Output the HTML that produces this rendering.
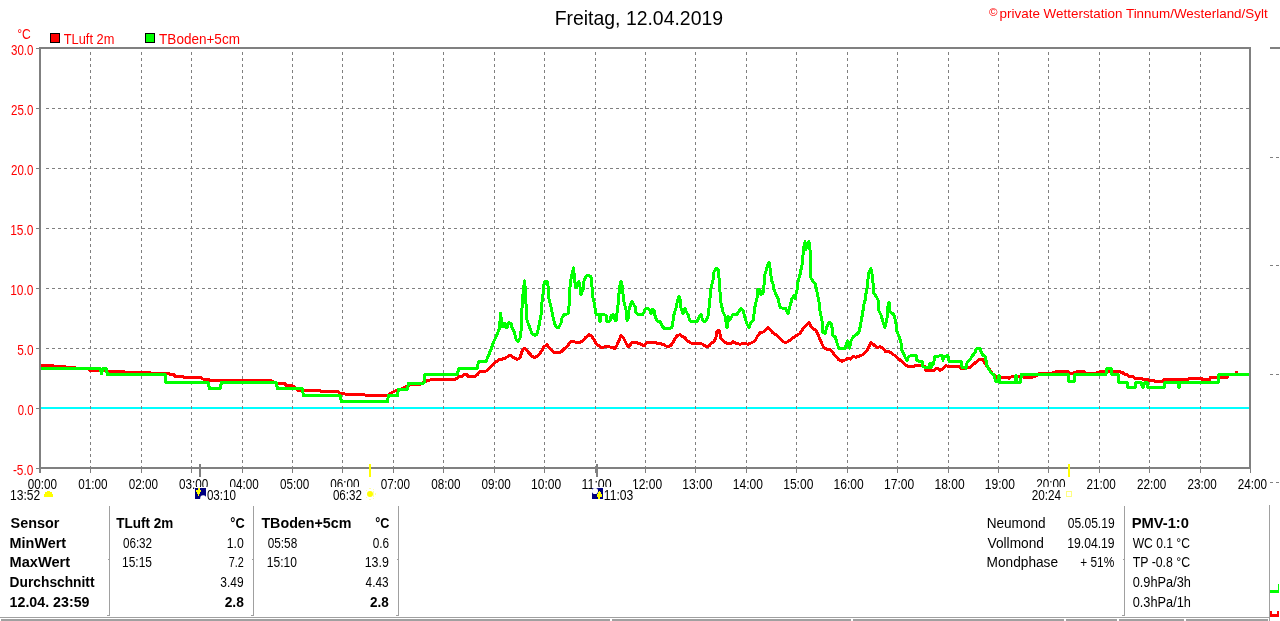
<!DOCTYPE html>
<html><head><meta charset="utf-8"><title>Freitag, 12.04.2019</title><style>html,body{margin:0;padding:0;background:#fff;overflow:hidden}svg{display:block;will-change:transform}</style></head><body>
<svg width="1280" height="621" viewBox="0 0 1280 621">
<style>text{font-family:"Liberation Sans",sans-serif;} .gd{stroke:#808080;stroke-width:1;stroke-dasharray:3 3;shape-rendering:crispEdges;fill:none}</style>
<rect width="1280" height="621" fill="#fff"/>
<rect x="41" y="407" width="1208" height="2" fill="#00ffff"/>
<line x1="46" y1="108.5" x2="1249" y2="108.5" class="gd"/>
<line x1="46" y1="168.5" x2="1249" y2="168.5" class="gd"/>
<line x1="46" y1="228.5" x2="1249" y2="228.5" class="gd"/>
<line x1="46" y1="288.5" x2="1249" y2="288.5" class="gd"/>
<line x1="46" y1="348.5" x2="1249" y2="348.5" class="gd"/>
<line x1="90.5" y1="52" x2="90.5" y2="467" class="gd"/>
<line x1="141.5" y1="52" x2="141.5" y2="467" class="gd"/>
<line x1="191.5" y1="52" x2="191.5" y2="467" class="gd"/>
<line x1="242.5" y1="52" x2="242.5" y2="467" class="gd"/>
<line x1="292.5" y1="52" x2="292.5" y2="467" class="gd"/>
<line x1="342.5" y1="52" x2="342.5" y2="467" class="gd"/>
<line x1="393.5" y1="52" x2="393.5" y2="467" class="gd"/>
<line x1="443.5" y1="52" x2="443.5" y2="467" class="gd"/>
<line x1="494.5" y1="52" x2="494.5" y2="467" class="gd"/>
<line x1="544.5" y1="52" x2="544.5" y2="467" class="gd"/>
<line x1="595.5" y1="52" x2="595.5" y2="467" class="gd"/>
<line x1="645.5" y1="52" x2="645.5" y2="467" class="gd"/>
<line x1="695.5" y1="52" x2="695.5" y2="467" class="gd"/>
<line x1="746.5" y1="52" x2="746.5" y2="467" class="gd"/>
<line x1="796.5" y1="52" x2="796.5" y2="467" class="gd"/>
<line x1="847.5" y1="52" x2="847.5" y2="467" class="gd"/>
<line x1="897.5" y1="52" x2="897.5" y2="467" class="gd"/>
<line x1="948.5" y1="52" x2="948.5" y2="467" class="gd"/>
<line x1="998.5" y1="52" x2="998.5" y2="467" class="gd"/>
<line x1="1048.5" y1="52" x2="1048.5" y2="467" class="gd"/>
<line x1="1099.5" y1="52" x2="1099.5" y2="467" class="gd"/>
<line x1="1149.5" y1="52" x2="1149.5" y2="467" class="gd"/>
<line x1="1200.5" y1="52" x2="1200.5" y2="467" class="gd"/>
<rect x="36" y="48" width="3" height="1" fill="#808080"/>
<rect x="36" y="108" width="3" height="1" fill="#808080"/>
<rect x="36" y="168" width="3" height="1" fill="#808080"/>
<rect x="36" y="228" width="3" height="1" fill="#808080"/>
<rect x="36" y="288" width="3" height="1" fill="#808080"/>
<rect x="36" y="348" width="3" height="1" fill="#808080"/>
<rect x="36" y="408" width="3" height="1" fill="#808080"/>
<rect x="36" y="468" width="3" height="1" fill="#808080"/>
<rect x="40" y="469" width="1" height="4" fill="#808080"/>
<rect x="90" y="469" width="1" height="4" fill="#808080"/>
<rect x="141" y="469" width="1" height="4" fill="#808080"/>
<rect x="191" y="469" width="1" height="4" fill="#808080"/>
<rect x="242" y="469" width="1" height="4" fill="#808080"/>
<rect x="292" y="469" width="1" height="4" fill="#808080"/>
<rect x="342" y="469" width="1" height="4" fill="#808080"/>
<rect x="393" y="469" width="1" height="4" fill="#808080"/>
<rect x="443" y="469" width="1" height="4" fill="#808080"/>
<rect x="494" y="469" width="1" height="4" fill="#808080"/>
<rect x="544" y="469" width="1" height="4" fill="#808080"/>
<rect x="595" y="469" width="1" height="4" fill="#808080"/>
<rect x="645" y="469" width="1" height="4" fill="#808080"/>
<rect x="695" y="469" width="1" height="4" fill="#808080"/>
<rect x="746" y="469" width="1" height="4" fill="#808080"/>
<rect x="796" y="469" width="1" height="4" fill="#808080"/>
<rect x="847" y="469" width="1" height="4" fill="#808080"/>
<rect x="897" y="469" width="1" height="4" fill="#808080"/>
<rect x="948" y="469" width="1" height="4" fill="#808080"/>
<rect x="998" y="469" width="1" height="4" fill="#808080"/>
<rect x="1048" y="469" width="1" height="4" fill="#808080"/>
<rect x="1099" y="469" width="1" height="4" fill="#808080"/>
<rect x="1149" y="469" width="1" height="4" fill="#808080"/>
<rect x="1200" y="469" width="1" height="4" fill="#808080"/>
<rect x="1250" y="469" width="1" height="4" fill="#808080"/>
<polyline points="40.0,365.5 53.0,365.5 54.0,366.5 65.0,366.5 66.0,367.5 75.0,367.5 76.0,368.5 89.0,368.5 90.0,370.5 100.0,370.5 110.0,371.5 124.0,371.5 125.0,372.5 150.0,372.5 151.0,373.5 169.0,373.5 170.0,374.5 174.0,374.5 175.0,376.5 183.0,376.5 184.0,377.5 201.0,377.5 202.0,378.5 204.0,379.5 209.0,379.5 210.0,380.5 270.0,380.5 277.0,383.0 285.0,383.5 286.0,385.5 293.0,386.0 298.0,390.5 320.0,390.5 321.0,392.0 322.0,391.0 338.0,391.5 339.0,393.0 345.0,394.0 347.0,394.5 365.0,395.0 388.0,396.0 390.0,393.5 395.0,391.0 400.0,390.0 405.0,387.0 410.0,385.0 420.0,384.5 425.0,381.5 430.0,380.0 445.0,379.5 448.0,380.0 455.0,379.5 458.0,377.5 459.0,376.5 463.0,376.0 464.0,374.5 467.0,374.5 468.0,376.5 475.0,376.5 478.0,374.0 480.0,371.5 486.0,371.0 487.0,370.5 489.0,369.0 490.0,367.5 492.0,366.0 493.0,364.5 495.0,362.8 497.0,361.0 499.0,359.7 501.0,359.2 504.0,358.8 507.0,357.0 510.0,355.2 512.0,356.5 515.0,358.3 517.0,359.6 520.0,357.8 522.0,351.3 524.0,348.0 526.0,349.7 529.0,352.9 532.0,356.2 535.0,357.8 538.0,355.3 541.0,352.1 544.0,346.5 547.0,344.9 549.0,347.3 552.0,350.5 555.0,352.9 558.0,352.9 561.0,352.1 564.0,348.9 566.0,347.6 568.0,345.1 570.0,342.7 572.0,341.1 575.0,342.0 578.0,342.0 580.0,342.7 583.0,340.3 586.0,337.1 589.0,334.7 591.0,335.5 594.0,339.5 596.0,343.5 599.0,346.0 602.0,347.6 605.0,346.8 609.0,346.8 612.0,347.6 615.0,348.4 617.0,345.1 619.0,340.3 621.0,335.5 623.0,337.1 625.0,341.1 627.0,345.1 629.0,346.8 631.0,343.5 633.0,342.0 636.0,342.7 640.0,343.5 644.0,346.0 647.0,342.7 655.0,342.7 659.0,343.5 663.0,344.3 666.0,346.0 669.0,346.8 671.0,345.1 673.0,342.7 675.0,338.7 677.0,335.5 680.0,334.7 682.0,336.3 685.0,337.9 687.0,340.3 690.0,342.7 693.0,343.5 701.0,343.5 704.0,345.1 707.0,346.8 709.0,346.0 712.0,342.7 714.0,342.0 716.0,337.0 717.0,331.3 719.0,330.5 720.0,333.7 721.0,338.5 724.0,341.8 727.0,343.4 730.0,343.9 733.0,341.8 736.0,343.4 740.0,344.2 744.0,343.4 748.0,344.2 752.0,342.6 755.0,341.0 757.0,337.0 760.0,332.9 763.0,332.1 766.0,329.7 768.0,327.3 770.0,329.7 773.0,332.9 777.0,335.3 780.0,338.5 783.0,341.8 786.0,342.6 790.0,340.2 795.0,336.3 800.0,333.4 803.0,328.6 806.0,325.7 809.0,322.8 811.0,326.7 813.0,328.6 816.0,330.5 818.0,334.4 820.0,339.2 822.0,344.1 824.0,348.0 828.0,349.5 830.0,349.4 833.0,352.9 836.0,356.5 839.0,360.0 842.0,361.2 845.0,360.0 848.0,358.2 850.0,359.1 853.0,356.5 856.0,357.3 858.0,356.5 861.0,355.6 864.0,353.8 867.0,350.3 869.0,346.7 871.0,342.3 874.0,345.0 877.0,347.6 880.0,346.7 883.0,348.5 886.0,352.0 889.0,351.2 892.0,353.8 895.0,355.6 898.0,358.2 902.0,361.8 905.0,364.4 908.0,366.7 914.0,366.9 915.0,365.5 920.0,365.5 925.0,366.4 926.0,370.6 932.0,370.6 934.0,370.2 937.0,368.3 940.0,370.2 943.0,368.8 946.0,365.5 948.0,366.4 959.0,366.4 961.0,368.3 969.0,367.8 971.0,366.4 974.0,364.0 977.0,361.2 979.0,359.4 983.0,359.4 985.0,363.1 989.0,369.0 993.0,374.4 997.0,377.2 1008.0,377.2 1009.0,378.1 1010.0,377.2 1012.0,376.7 1020.0,376.7 1023.0,377.0 1033.0,377.0 1036.0,376.0 1039.0,373.5 1052.0,373.5 1053.0,372.5 1057.0,371.5 1068.0,371.5 1070.0,373.3 1073.0,373.3 1074.0,372.5 1078.0,371.5 1084.0,371.5 1085.0,373.0 1096.0,373.0 1097.0,372.5 1102.0,371.5 1106.0,371.5 1108.0,371.0 1115.0,371.0 1116.0,371.5 1120.0,371.5 1121.0,372.8 1123.0,372.8 1124.0,374.0 1127.0,374.0 1128.0,376.0 1133.0,376.0 1134.0,378.0 1141.0,378.0 1142.0,379.0 1147.0,379.0 1148.0,380.0 1153.0,380.0 1154.0,381.0 1158.0,381.0 1159.0,382.0 1160.0,381.0 1163.0,381.0 1164.0,379.5 1188.0,379.5 1189.0,378.0 1201.0,378.0 1202.0,379.3 1208.0,379.3 1209.0,381.0 1210.0,377.8 1217.0,377.8 1218.0,377.5 1227.0,377.5 1228.0,374.5 1235.0,374.5 1236.5,372.5 1238.0,374.5 1249.0,374.5" fill="none" stroke="#ff0000" stroke-width="3" stroke-linejoin="round" stroke-linecap="butt" shape-rendering="crispEdges"/>
<polyline points="40.0,368.5 100.0,368.5 101.5,373.5 103.0,368.5 106.0,368.5 107.5,374.5 165.0,374.5 166.0,382.5 208.0,382.5 209.5,388.5 220.0,388.5 221.5,382.5 276.0,382.5 277.5,388.5 302.0,388.5 303.5,395.5 340.0,395.5 341.5,401.5 387.5,401.5 388.5,395.5 397.5,395.5 398.5,389.0 407.5,389.0 408.5,383.0 424.0,383.0 425.0,374.5 457.0,374.5 458.0,371.5 459.0,368.5 477.0,368.5 478.0,364.0 479.0,361.5 486.0,361.5 487.5,358.0 489.0,354.3 491.5,348.0 494.0,341.0 496.2,336.6 498.0,332.0 499.5,328.0 500.5,313.5 501.5,321.0 502.5,326.8 503.0,323.3 504.0,326.4 505.0,323.3 506.0,327.3 507.0,327.3 508.0,324.6 509.0,322.8 511.0,323.3 512.0,327.3 514.0,331.3 515.0,334.8 516.0,339.2 518.0,341.5 520.0,338.4 521.0,331.2 522.0,307.8 523.0,294.0 524.5,281.0 525.0,286.0 526.0,303.8 527.0,320.0 529.0,325.5 532.0,333.6 535.0,335.2 537.0,334.4 539.0,325.5 541.0,315.0 542.0,302.0 543.0,294.0 544.0,284.5 545.0,281.0 547.0,281.0 548.0,286.0 549.0,299.0 551.0,307.0 553.0,316.7 555.0,324.7 557.0,328.0 559.0,327.2 561.0,323.0 562.0,317.8 564.0,314.6 568.0,313.8 569.0,306.5 570.0,287.2 571.0,279.0 573.5,268.0 574.0,272.7 575.0,282.4 576.0,288.0 578.0,285.6 579.0,281.6 580.0,287.2 581.0,294.4 583.0,289.6 584.0,280.8 586.0,276.0 588.0,275.0 591.0,276.7 592.0,287.0 593.0,297.7 594.0,301.7 595.0,308.0 596.0,314.2 599.0,314.6 600.0,321.8 601.0,314.6 604.0,314.6 606.0,315.4 607.0,321.8 610.0,321.0 611.0,316.0 613.0,314.6 614.0,318.6 616.0,321.0 617.0,313.0 618.0,305.0 619.0,293.6 620.0,285.6 621.0,281.6 622.0,284.8 623.0,293.6 624.0,301.7 626.0,309.7 627.0,320.2 628.0,318.6 629.0,309.7 631.0,303.3 632.0,301.7 634.0,305.0 635.0,306.5 636.0,313.0 638.0,314.2 643.0,314.2 645.0,309.7 647.0,308.0 650.0,310.5 651.0,313.8 652.0,309.0 654.0,310.5 655.0,315.4 657.0,321.0 660.0,321.8 662.0,325.8 664.0,328.2 670.0,328.2 672.0,327.4 673.0,321.0 674.0,314.6 676.0,308.0 677.0,303.3 679.0,296.0 680.0,299.3 681.0,308.0 683.0,313.8 684.0,309.7 685.0,308.0 686.0,311.4 688.0,314.6 690.0,321.0 693.0,321.8 697.0,321.8 699.0,317.0 701.0,314.6 702.0,317.8 703.0,321.0 706.0,321.0 708.0,316.2 709.0,308.0 710.0,298.5 711.0,288.0 713.0,280.0 714.0,272.0 716.0,268.5 718.0,269.3 719.0,277.4 720.0,291.9 721.0,303.0 723.0,312.0 725.0,316.0 727.0,328.0 728.0,316.0 729.0,320.8 731.0,317.6 733.0,314.4 737.0,314.4 739.0,311.2 741.0,308.8 743.0,310.4 745.0,317.6 747.0,324.0 749.0,327.3 751.0,322.5 753.0,320.8 754.0,314.4 755.0,306.4 757.0,298.3 758.0,289.4 760.0,290.2 761.0,294.3 763.0,293.5 764.0,285.4 765.0,274.2 768.0,264.5 769.0,262.5 770.5,271.0 771.5,280.0 773.0,284.0 774.0,289.4 776.0,294.3 778.0,298.3 780.0,307.1 782.0,308.0 786.0,308.8 788.0,313.6 789.0,309.6 790.0,306.4 792.0,298.7 794.0,295.8 795.0,298.7 797.0,290.0 798.0,282.2 800.0,274.5 802.0,264.9 803.0,255.2 804.0,246.5 805.0,241.7 806.0,249.4 807.0,243.6 809.0,241.7 810.0,249.4 811.0,278.4 813.0,281.3 815.0,283.2 817.0,292.0 819.0,301.6 820.0,311.2 822.0,320.9 823.0,332.5 825.0,333.4 827.0,326.7 829.0,322.8 831.0,323.0 832.0,327.3 833.0,336.0 835.0,336.0 837.0,343.2 839.0,348.5 845.0,348.5 846.5,343.0 847.5,341.0 849.5,348.0 851.0,341.0 853.0,337.0 855.0,335.4 857.0,334.1 858.5,332.6 859.3,330.9 860.3,326.4 861.0,321.9 862.3,315.0 864.0,304.2 865.0,300.7 866.0,293.6 867.0,288.3 868.0,279.5 869.0,272.4 871.0,268.8 872.0,274.2 873.0,283.0 874.0,293.6 876.0,296.3 878.0,299.8 879.0,311.3 881.0,314.9 883.0,322.0 885.0,327.3 887.0,318.4 888.0,306.0 889.0,302.5 890.0,311.3 892.0,313.1 894.0,314.9 896.0,323.7 897.0,331.7 899.0,336.1 901.0,343.2 902.0,350.3 904.0,354.7 905.0,357.0 907.0,360.3 909.0,356.1 916.0,355.6 917.0,360.8 922.0,361.5 923.0,366.9 929.0,367.8 930.0,363.1 931.0,367.5 932.0,363.0 933.0,365.0 935.0,356.6 942.0,355.6 943.0,360.3 944.0,356.6 948.0,355.6 949.0,361.2 961.0,361.5 962.0,367.3 966.0,368.3 967.0,362.7 970.0,359.8 972.0,356.1 975.0,352.8 976.0,349.1 978.0,348.6 980.0,348.6 981.0,351.9 983.0,355.2 985.0,356.6 986.0,360.3 987.0,365.9 989.0,369.2 991.0,373.0 994.0,374.8 995.0,379.1 996.0,381.9 998.0,381.9 999.0,375.0 1000.0,382.3 1015.0,382.3 1016.0,375.0 1017.0,382.3 1020.5,382.3 1021.5,374.5 1068.0,374.5 1069.0,381.5 1074.0,381.5 1075.0,374.5 1106.0,374.5 1107.0,368.5 1111.0,368.5 1112.0,374.5 1118.0,374.5 1119.0,382.5 1127.0,382.5 1128.0,387.5 1135.0,387.5 1136.0,382.5 1141.0,382.5 1143.0,388.0 1145.0,382.5 1147.0,382.5 1148.0,387.5 1164.0,387.5 1165.0,382.5 1178.0,382.5 1179.0,388.0 1180.0,382.5 1218.0,382.5 1219.0,374.5 1249.0,374.5" fill="none" stroke="#00ff00" stroke-width="3" stroke-linejoin="round" stroke-linecap="butt" shape-rendering="crispEdges"/>
<rect x="39" y="47" width="1212" height="2" fill="#808080"/>
<rect x="39" y="467" width="1212" height="2" fill="#808080"/>
<rect x="39" y="47" width="2" height="426" fill="#808080"/>
<rect x="1249" y="47" width="2" height="422" fill="#808080"/>
<rect x="50.5" y="33.5" width="9" height="9" fill="#ff0000" stroke="#000" stroke-width="1"/>
<rect x="145.5" y="33.5" width="9" height="9" fill="#00ff00" stroke="#000" stroke-width="1"/>
<rect x="1270" y="47" width="10" height="2" fill="#808080"/>
<line x1="1270" y1="157.5" x2="1280" y2="157.5" class="gd"/>
<line x1="1270" y1="265.5" x2="1280" y2="265.5" class="gd"/>
<line x1="1270" y1="374.5" x2="1280" y2="374.5" class="gd"/>
<line x1="1270" y1="482.5" x2="1280" y2="482.5" class="gd"/>
<text x="554.68" y="25.00" font-size="21" textLength="168.37" lengthAdjust="spacingAndGlyphs">Freitag, 12.04.2019</text>
<text x="988.90" y="15.70" font-size="11" fill="#f00" textLength="8.51" lengthAdjust="spacingAndGlyphs">©</text>
<text x="999.61" y="18.00" font-size="13.5" fill="#f00" textLength="268.06" lengthAdjust="spacingAndGlyphs">private Wetterstation Tinnum/Westerland/Sylt</text>
<text x="17.14" y="39.00" font-size="14" fill="#f00" textLength="13.58" lengthAdjust="spacingAndGlyphs">°C</text>
<text x="63.80" y="44.00" font-size="14" fill="#f00" textLength="50.54" lengthAdjust="spacingAndGlyphs">TLuft 2m</text>
<text x="159.10" y="44.00" font-size="14" fill="#f00" textLength="80.84" lengthAdjust="spacingAndGlyphs">TBoden+5cm</text>
<text x="11.00" y="55.00" font-size="14" fill="#f00" textLength="22.40" lengthAdjust="spacingAndGlyphs">30.0</text>
<text x="11.00" y="115.00" font-size="14" fill="#f00" textLength="22.40" lengthAdjust="spacingAndGlyphs">25.0</text>
<text x="11.00" y="175.00" font-size="14" fill="#f00" textLength="22.40" lengthAdjust="spacingAndGlyphs">20.0</text>
<text x="10.15" y="235.00" font-size="14" fill="#f00" textLength="23.27" lengthAdjust="spacingAndGlyphs">15.0</text>
<text x="10.15" y="295.00" font-size="14" fill="#f00" textLength="23.27" lengthAdjust="spacingAndGlyphs">10.0</text>
<text x="17.16" y="355.00" font-size="14" fill="#f00" textLength="16.43" lengthAdjust="spacingAndGlyphs">5.0</text>
<text x="17.80" y="415.00" font-size="14" fill="#f00" textLength="15.77" lengthAdjust="spacingAndGlyphs">0.0</text>
<text x="12.90" y="475.00" font-size="14" fill="#f00" textLength="20.40" lengthAdjust="spacingAndGlyphs">-5.0</text>
<text x="27.80" y="489.00" font-size="14" textLength="29.33" lengthAdjust="spacingAndGlyphs">00:00</text>
<text x="78.22" y="489.00" font-size="14" textLength="29.33" lengthAdjust="spacingAndGlyphs">01:00</text>
<text x="128.63" y="489.00" font-size="14" textLength="29.33" lengthAdjust="spacingAndGlyphs">02:00</text>
<text x="179.05" y="489.00" font-size="14" textLength="29.33" lengthAdjust="spacingAndGlyphs">03:00</text>
<text x="229.47" y="489.00" font-size="14" textLength="29.33" lengthAdjust="spacingAndGlyphs">04:00</text>
<text x="279.88" y="489.00" font-size="14" textLength="29.33" lengthAdjust="spacingAndGlyphs">05:00</text>
<text x="330.30" y="489.00" font-size="14" textLength="29.33" lengthAdjust="spacingAndGlyphs">06:00</text>
<text x="380.72" y="489.00" font-size="14" textLength="29.33" lengthAdjust="spacingAndGlyphs">07:00</text>
<text x="431.13" y="489.00" font-size="14" textLength="29.33" lengthAdjust="spacingAndGlyphs">08:00</text>
<text x="481.55" y="489.00" font-size="14" textLength="29.33" lengthAdjust="spacingAndGlyphs">09:00</text>
<text x="531.10" y="489.00" font-size="14" textLength="30.19" lengthAdjust="spacingAndGlyphs">10:00</text>
<text x="581.50" y="489.00" font-size="14" textLength="30.18" lengthAdjust="spacingAndGlyphs">11:00</text>
<text x="631.94" y="489.00" font-size="14" textLength="30.19" lengthAdjust="spacingAndGlyphs">12:00</text>
<text x="682.35" y="489.00" font-size="14" textLength="30.19" lengthAdjust="spacingAndGlyphs">13:00</text>
<text x="732.77" y="489.00" font-size="14" textLength="30.19" lengthAdjust="spacingAndGlyphs">14:00</text>
<text x="783.19" y="489.00" font-size="14" textLength="30.19" lengthAdjust="spacingAndGlyphs">15:00</text>
<text x="833.60" y="489.00" font-size="14" textLength="30.19" lengthAdjust="spacingAndGlyphs">16:00</text>
<text x="884.02" y="489.00" font-size="14" textLength="30.19" lengthAdjust="spacingAndGlyphs">17:00</text>
<text x="934.44" y="489.00" font-size="14" textLength="30.19" lengthAdjust="spacingAndGlyphs">18:00</text>
<text x="984.85" y="489.00" font-size="14" textLength="30.19" lengthAdjust="spacingAndGlyphs">19:00</text>
<text x="1036.13" y="489.00" font-size="14" textLength="29.33" lengthAdjust="spacingAndGlyphs">20:00</text>
<text x="1086.55" y="489.00" font-size="14" textLength="29.33" lengthAdjust="spacingAndGlyphs">21:00</text>
<text x="1136.97" y="489.00" font-size="14" textLength="29.33" lengthAdjust="spacingAndGlyphs">22:00</text>
<text x="1187.38" y="489.00" font-size="14" textLength="29.33" lengthAdjust="spacingAndGlyphs">23:00</text>
<text x="1237.80" y="489.00" font-size="14" textLength="29.33" lengthAdjust="spacingAndGlyphs">24:00</text>
<text x="10.60" y="528.00" font-size="14" font-weight="bold" textLength="48.77" lengthAdjust="spacingAndGlyphs">Sensor</text>
<text x="9.57" y="548.00" font-size="14" font-weight="bold" textLength="56.59" lengthAdjust="spacingAndGlyphs">MinWert</text>
<text x="9.56" y="567.00" font-size="14" font-weight="bold" textLength="60.54" lengthAdjust="spacingAndGlyphs">MaxWert</text>
<text x="9.62" y="587.00" font-size="14" font-weight="bold" textLength="84.92" lengthAdjust="spacingAndGlyphs">Durchschnitt</text>
<text x="9.58" y="607.00" font-size="14" font-weight="bold" textLength="79.95" lengthAdjust="spacingAndGlyphs">12.04. 23:59</text>
<text x="116.30" y="528.00" font-size="14" font-weight="bold" textLength="57.00" lengthAdjust="spacingAndGlyphs">TLuft 2m</text>
<text x="230.30" y="528.00" font-size="14" font-weight="bold" textLength="14.35" lengthAdjust="spacingAndGlyphs">°C</text>
<text x="261.40" y="528.00" font-size="14" font-weight="bold" textLength="90.01" lengthAdjust="spacingAndGlyphs">TBoden+5cm</text>
<text x="375.20" y="528.00" font-size="14" font-weight="bold" textLength="14.14" lengthAdjust="spacingAndGlyphs">°C</text>
<text x="224.70" y="607.00" font-size="14" font-weight="bold" textLength="19.15" lengthAdjust="spacingAndGlyphs">2.8</text>
<text x="370.00" y="607.00" font-size="14" font-weight="bold" textLength="18.74" lengthAdjust="spacingAndGlyphs">2.8</text>
<text x="1131.65" y="528.00" font-size="14" font-weight="bold" textLength="57.34" lengthAdjust="spacingAndGlyphs">PMV-1:0</text>
<text x="122.90" y="548.00" font-size="14" textLength="29.23" lengthAdjust="spacingAndGlyphs">06:32</text>
<text x="226.72" y="548.00" font-size="14" textLength="17.08" lengthAdjust="spacingAndGlyphs">1.0</text>
<text x="122.04" y="567.00" font-size="14" textLength="29.99" lengthAdjust="spacingAndGlyphs">15:15</text>
<text x="228.70" y="567.00" font-size="14" textLength="15.06" lengthAdjust="spacingAndGlyphs">7.2</text>
<text x="220.30" y="587.00" font-size="14" textLength="23.31" lengthAdjust="spacingAndGlyphs">3.49</text>
<text x="267.70" y="548.00" font-size="14" textLength="29.53" lengthAdjust="spacingAndGlyphs">05:58</text>
<text x="372.70" y="548.00" font-size="14" textLength="16.39" lengthAdjust="spacingAndGlyphs">0.6</text>
<text x="266.84" y="567.00" font-size="14" textLength="30.19" lengthAdjust="spacingAndGlyphs">15:10</text>
<text x="364.71" y="567.00" font-size="14" textLength="24.21" lengthAdjust="spacingAndGlyphs">13.9</text>
<text x="365.60" y="587.00" font-size="14" textLength="22.91" lengthAdjust="spacingAndGlyphs">4.43</text>
<text x="986.63" y="528.00" font-size="14" textLength="59.06" lengthAdjust="spacingAndGlyphs">Neumond</text>
<text x="1067.70" y="528.00" font-size="14" textLength="46.93" lengthAdjust="spacingAndGlyphs">05.05.19</text>
<text x="987.60" y="548.00" font-size="14" textLength="56.28" lengthAdjust="spacingAndGlyphs">Vollmond</text>
<text x="1067.23" y="548.00" font-size="14" textLength="47.40" lengthAdjust="spacingAndGlyphs">19.04.19</text>
<text x="986.62" y="567.00" font-size="14" textLength="71.44" lengthAdjust="spacingAndGlyphs">Mondphase</text>
<text x="1080.20" y="567.00" font-size="14" textLength="34.07" lengthAdjust="spacingAndGlyphs">+ 51%</text>
<text x="1132.70" y="548.00" font-size="14" textLength="57.24" lengthAdjust="spacingAndGlyphs">WC 0.1 °C</text>
<text x="1132.70" y="567.00" font-size="14" textLength="57.44" lengthAdjust="spacingAndGlyphs">TP -0.8 °C</text>
<text x="1132.70" y="587.00" font-size="14" textLength="58.26" lengthAdjust="spacingAndGlyphs">0.9hPa/3h</text>
<text x="1132.70" y="607.00" font-size="14" textLength="58.26" lengthAdjust="spacingAndGlyphs">0.3hPa/1h</text>
<rect x="195" y="487" width="42" height="14" fill="#fff"/>
<rect x="329" y="487" width="48" height="14" fill="#fff"/>
<rect x="592" y="487" width="43" height="14" fill="#fff"/>
<rect x="1030" y="487" width="44" height="14" fill="#fff"/>
<text x="10.04" y="500" font-size="14" textLength="30.19" lengthAdjust="spacingAndGlyphs">13:52</text>
<text x="206.90" y="500" font-size="14" textLength="29.13" lengthAdjust="spacingAndGlyphs">03:10</text>
<text x="332.90" y="500" font-size="14" textLength="29.03" lengthAdjust="spacingAndGlyphs">06:32</text>
<text x="603.83" y="500" font-size="14" textLength="29.46" lengthAdjust="spacingAndGlyphs">11:03</text>
<text x="1031.70" y="500" font-size="14" textLength="29.33" lengthAdjust="spacingAndGlyphs">20:24</text>
<path d="M47,491h3v1h2v2h1v3h-9v-3h1v-2h2z" fill="#ffff00"/>
<rect x="195" y="488" width="11" height="11" fill="#000080"/>
<circle cx="203.2" cy="498.3" r="3" fill="#fff"/>
<path d="M198,488H200V490H201V492H200V494H199V496H198V494H197V492H196V490H198Z" fill="#ffff00"/>
<rect x="592" y="488" width="11" height="11" fill="#000080"/>
<circle cx="595" cy="491" r="3.1" fill="#fff"/>
<path d="M599,491H600V492H601V494H602V497H600V499H598V497H597V494H598V492H599Z" fill="#ffff00"/>
<g fill="#ffffa0" opacity="0.9"><rect x="369" y="488" width="2" height="1"/><rect x="369" y="499" width="2" height="1"/><rect x="366" y="490" width="1" height="1"/><rect x="366" y="497" width="1" height="1"/><rect x="373" y="489" width="1" height="1"/><rect x="373" y="498" width="1" height="1"/><rect x="375" y="493" width="1" height="2"/><rect x="373" y="491" width="1" height="6"/></g>
<circle cx="370" cy="494" r="3" fill="#ffff00"/>
<rect x="1066.5" y="491.5" width="5" height="5" fill="none" stroke="#ffff80" stroke-width="1"/>
<rect x="109" y="506" width="1" height="110" fill="#a0a0a0"/>
<rect x="107" y="615" width="2" height="1" fill="#a0a0a0"/>
<rect x="108" y="559" width="1" height="1" fill="#a0a0a0"/>
<rect x="253" y="506" width="1" height="110" fill="#a0a0a0"/>
<rect x="251" y="615" width="2" height="1" fill="#a0a0a0"/>
<rect x="252" y="559" width="1" height="1" fill="#a0a0a0"/>
<rect x="398" y="506" width="1" height="110" fill="#a0a0a0"/>
<rect x="396" y="615" width="2" height="1" fill="#a0a0a0"/>
<rect x="397" y="559" width="1" height="1" fill="#a0a0a0"/>
<rect x="1124" y="506" width="1" height="110" fill="#a0a0a0"/>
<rect x="1122" y="615" width="2" height="1" fill="#a0a0a0"/>
<rect x="1123" y="559" width="1" height="1" fill="#a0a0a0"/>
<rect x="1269" y="505" width="1" height="116" fill="#a0a0a0"/>
<rect x="0" y="617" width="1270" height="1" fill="#a0a0a0"/>
<rect x="1" y="619" width="609" height="2" fill="#a0a0a0"/>
<rect x="612" y="619" width="239" height="2" fill="#a0a0a0"/>
<rect x="853" y="619" width="211" height="2" fill="#a0a0a0"/>
<rect x="1066" y="619" width="51" height="2" fill="#a0a0a0"/>
<rect x="1119" y="619" width="65" height="2" fill="#a0a0a0"/>
<rect x="1186" y="619" width="82" height="2" fill="#a0a0a0"/>
<path d="M1270,590h8v-6h1v9h-9z" fill="#00ff00"/>
<path d="M1270,611h2v3h5v-3h2v6h-9z" fill="#ff0000"/>
<rect x="199" y="464" width="2" height="13" fill="#808080"/>
<rect x="596" y="464" width="2" height="13" fill="#808080"/>
<rect x="369" y="464" width="2" height="13" fill="#ffff00"/>
<rect x="1068" y="464" width="2" height="13" fill="#ffff00"/>
</svg>
</body></html>
